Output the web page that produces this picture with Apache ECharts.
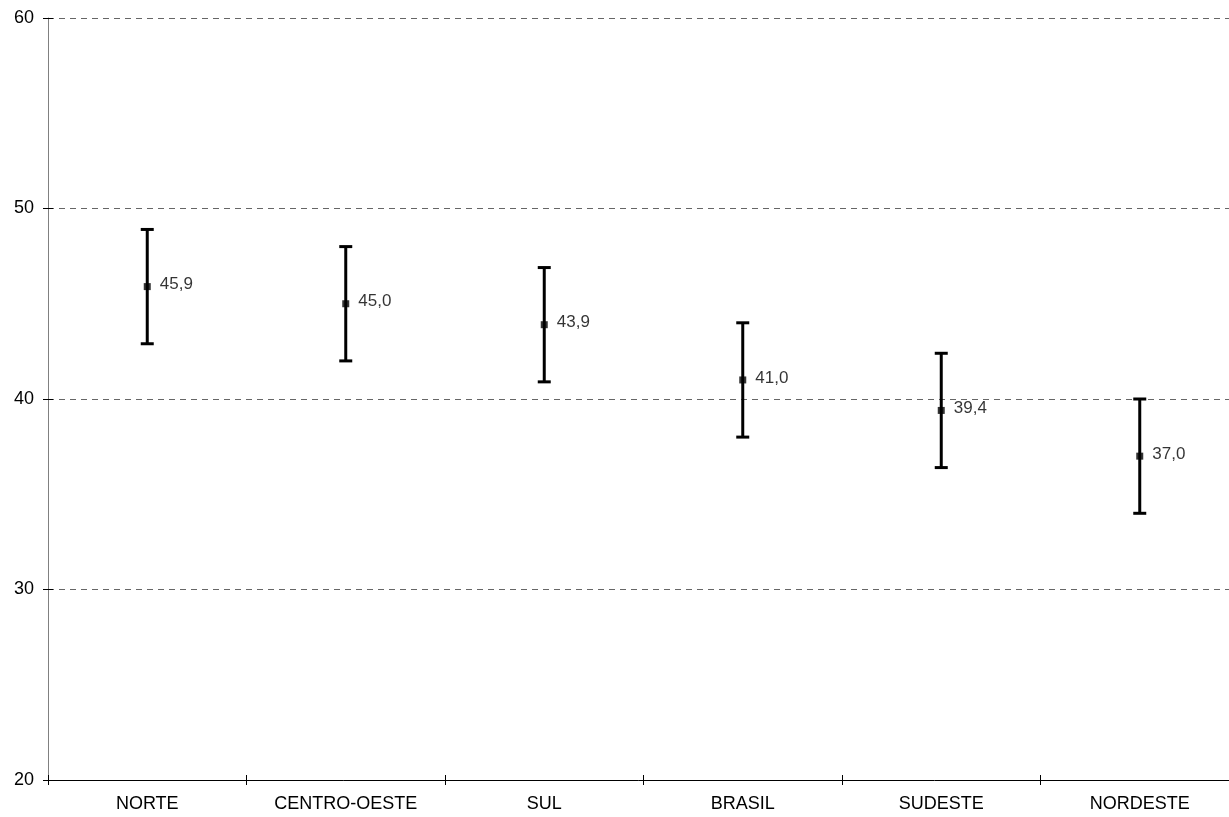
<!DOCTYPE html>
<html>
<head>
<meta charset="utf-8">
<script src="https://cdn.jsdelivr.net/npm/echarts@6/dist/echarts.min.js"></script>
<style>html,body{margin:0;padding:0;background:#fff;}#c{width:1229px;height:817px;}</style>
</head>
<body>
<div id="c"></div>
<script>
var categories = ['NORTE', 'CENTRO-OESTE', 'SUL', 'BRASIL', 'SUDESTE', 'NORDESTE'];
var values = [45.9, 45.0, 43.9, 41.0, 39.4, 37.0];
var lower = [42.9, 42.0, 40.9, 38.0, 36.4, 34.0];
var upper = [48.9, 48.0, 46.9, 44.0, 42.4, 40.0];
var yTicks = [20, 30, 40, 50, 60];

var chart = echarts.init(document.getElementById('c'));
var errData = categories.map(function (c, i) { return [i, lower[i], upper[i]]; });
var ptData = categories.map(function (c, i) { return [i, values[i]]; });
var font = 'Liberation Sans, Arial, sans-serif';

chart.setOption({
  animation: false,
  grid: { left: 48, top: 18, right: -10, bottom: 37, containLabel: false, outerBoundsMode: 'none' },
  xAxis: [{
    type: 'category', data: categories, boundaryGap: true,
    axisLine: { lineStyle: { color: '#000', width: 1 } },
    axisTick: { show: true, length: 5, interval: 0, lineStyle: { color: '#000' } },
    axisLabel: { color: '#000', fontSize: 18, fontFamily: font, margin: 15, interval: 0 },
    splitLine: { show: false }
  }, {
    type: 'category', data: categories, boundaryGap: true, position: 'bottom',
    axisLine: { show: false },
    axisTick: { show: true, inside: true, length: 5, interval: 0, lineStyle: { color: '#000' } },
    axisLabel: { show: false }
  }],
  yAxis: [{
    type: 'value', min: 20, max: 60, interval: 10,
    axisLine: { show: true, lineStyle: { color: '#808080', width: 1 } },
    axisTick: { show: true, length: 5, lineStyle: { color: '#000' } },
    axisLabel: { color: '#000', fontSize: 18, fontFamily: font, margin: 14,
      formatter: function (v) { return yTicks.indexOf(v) >= 0 ? String(v) : ''; } },
    splitLine: { show: true, lineStyle: { color: '#666', type: [6, 5], width: 1 } }
  }, {
    type: 'value', min: 20, max: 60, interval: 10, position: 'left',
    axisLine: { show: false },
    axisTick: { show: true, inside: true, length: 5, lineStyle: { color: '#000' } },
    axisLabel: { show: false }, splitLine: { show: false }
  }],
  series: [{
    type: 'custom',
    data: errData,
    z: 3,
    renderItem: function (params, api) {
      var x = api.value(0);
      var lo = api.coord([x, api.value(1)]);
      var hi = api.coord([x, api.value(2)]);
      var hw = 6.5;
      var st = { stroke: '#000', lineWidth: 3 };
      return {
        type: 'group',
        children: [
          { type: 'line', shape: { x1: lo[0], y1: lo[1], x2: hi[0], y2: hi[1] }, style: st },
          { type: 'line', shape: { x1: lo[0] - hw, y1: lo[1], x2: lo[0] + hw, y2: lo[1] }, style: st },
          { type: 'line', shape: { x1: hi[0] - hw, y1: hi[1], x2: hi[0] + hw, y2: hi[1] }, style: st }
        ]
      };
    }
  }, {
    type: 'scatter',
    data: ptData,
    z: 4,
    symbol: 'rect', symbolSize: 7,
    itemStyle: { color: '#000' },
    label: {
      show: true, position: 'right', distance: 9, color: '#000', fontSize: 17, fontFamily: font,
      offset: [0, -2],
      formatter: function (p) { return p.value[1].toFixed(1).replace('.', ','); }
    }
  }]
});
</script>
</body>
</html>
